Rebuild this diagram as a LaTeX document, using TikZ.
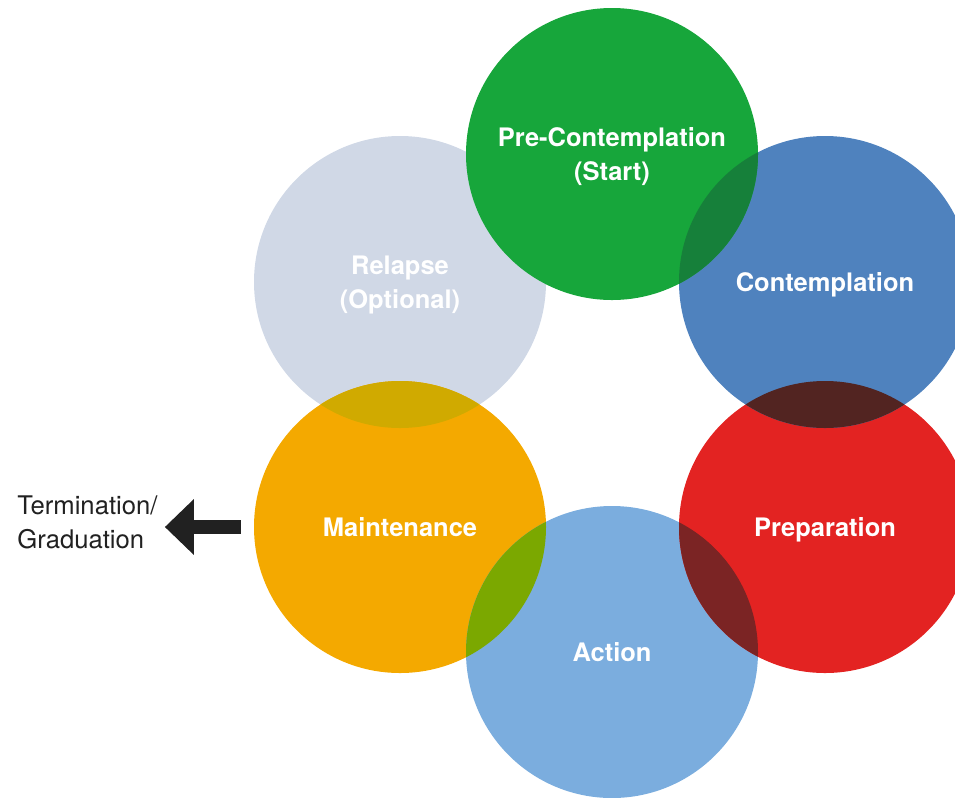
\documentclass[tikz,border=0pt]{standalone}
\usepackage{fontspec}
\setmainfont{TeX Gyre Heros}
\usepackage{tikz}
\usetikzlibrary{arrows.meta}
\usepackage{xcolor}

\definecolor{cPre}{HTML}{17A63B}
\definecolor{cCon}{HTML}{4F82BE}
\definecolor{cPrep}{HTML}{E32322}
\definecolor{cAct}{HTML}{7BADDE}
\definecolor{cMain}{HTML}{F4A900}
\definecolor{cRel}{HTML}{D0D8E6}
\definecolor{cPreCon}{HTML}{16803A}
\definecolor{cConPrep}{HTML}{522421}
\definecolor{cPrepAct}{HTML}{7B2424}
\definecolor{cActMain}{HTML}{7BA800}
\definecolor{cMainRel}{HTML}{D0AA00}

\tikzset{
  stage/.style={circle, minimum size=58.4mm, inner sep=0pt},
  stagetext/.style={inner sep=0pt, text=white, align=center,
    font=\fontsize{14.5}{19.3}\selectfont\bfseries},
  bigarrow/.style={-{Triangle[length=5.8mm,width=10.8mm]}, line width=8pt,
    color=black!87}
}

\begin{document}
\begin{tikzpicture}[x=0.2mm,y=-0.2mm]
\useasboundingbox (0,0) rectangle (955,797);

\node[stage,fill=cRel] (rel) at (400,282) {};
\node[stage,fill=cMain] (main) at (400,527) {};
\node[stage,fill=cAct] (act) at (612,652) {};
\node[stage,fill=cPrep] (prep) at (825,527) {};
\node[stage,fill=cCon] (con) at (825,282) {};
\node[stage,fill=cPre] (pre) at (612,154) {};

% overlaps
\begin{scope}
\clip (pre.center) circle (29.2mm);
\fill[cPreCon] (con.center) circle (29.2mm);
\end{scope}
\begin{scope}
\clip (con.center) circle (29.2mm);
\fill[cConPrep] (prep.center) circle (29.2mm);
\end{scope}
\begin{scope}
\clip (prep.center) circle (29.2mm);
\fill[cPrepAct] (act.center) circle (29.2mm);
\end{scope}
\begin{scope}
\clip (act.center) circle (29.2mm);
\fill[cActMain] (main.center) circle (29.2mm);
\end{scope}
\begin{scope}
\clip (main.center) circle (29.2mm);
\fill[cMainRel] (rel.center) circle (29.2mm);
\end{scope}

% labels
\node[stagetext] (relText) at ([yshift=-0.6mm]rel.center) {Relapse\\(Optional)};
\node[stagetext] (mainText) at (main.center) {Maintenance};
\node[stagetext] (actText) at (act.center) {Action};
\node[stagetext] (prepText) at ([yshift=-0.6mm]prep.center) {Preparation};
\node[stagetext] (conText) at ([yshift=-0.6mm]con.center) {Contemplation};
\node[stagetext] (preText) at ([yshift=-0.6mm]pre.center) {Pre-Contemplation\\(Start)};

\node[anchor=west,align=left,inner sep=0pt,text=black!87,
  font=\fontsize{14.6}{19.3}\selectfont] (term) at (17,522) {Termination/\\Graduation};

\draw[bigarrow,shorten <=2.6mm,shorten >=1.4mm] (main.west) -- (main.west -| term.east);
\end{tikzpicture}
\end{document}
